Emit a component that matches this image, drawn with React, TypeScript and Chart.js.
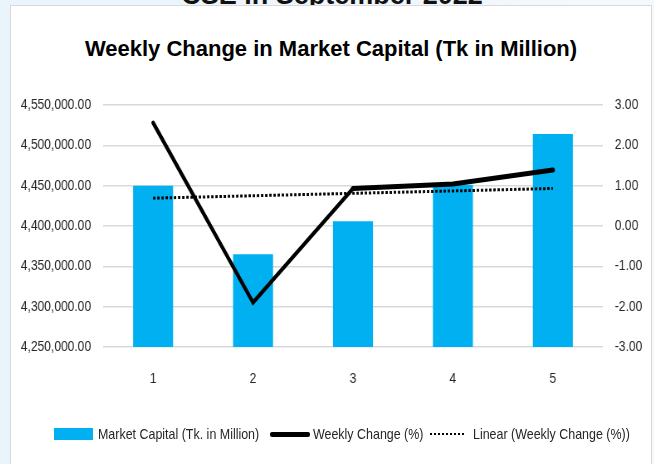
import React, { useEffect, useRef } from "react";
import { Chart, registerables } from "chart.js";

Chart.register(...registerables);

// ---- data ----
const weeks = ["1", "2", "3", "4", "5"];
const marketCapital = [4450000, 4365000, 4406000, 4451000, 4514000];
const weeklyChange = [2.56, -1.9, 0.93, 1.04, 1.39];
const linearTrend = [0.69, 0.75, 0.81, 0.87, 0.93];

const leftMin = 4250000;
const leftMax = 4550000;
const leftStep = 50000;
const rightMin = -3;
const rightMax = 3;
const rightStep = 1;

const titleText = "Weekly Change in Market Capital (Tk in Million)";
const headerText = "CSE in September 2022";
const seriesNames = ["Market Capital (Tk. in Million)", "Weekly Change (%)", "Linear (Weekly Change (%))"];

// ---- style ----
const FONT = '"Liberation Sans", Arial, sans-serif';
const BAR_COLOR = "#00b0f0";
const TEXT_COLOR = "#262626";
const SQUISH = 0.83; // narrow (Calibri-like) text look
const CANVAS_W = 771; // 640 / SQUISH
const CANVAS_H = 458;

export default function App() {
  const canvasRef = useRef<HTMLCanvasElement | null>(null);

  useEffect(() => {
    const canvas = canvasRef.current;
    if (!canvas) return;
    const chart = new Chart(canvas, {
      type: "bar",
      data: {
        labels: weeks,
        datasets: [
          {
            type: "line",
            label: seriesNames[1],
            data: weeklyChange,
            yAxisID: "yRight",
            borderColor: "#000000",
            backgroundColor: "#000000",
            borderWidth: 4,
            pointRadius: 0,
            borderJoinStyle: "miter",
            borderCapStyle: "round",
            tension: 0,
            order: 0,
            segment: {
              borderWidth: (ctx: any) => (ctx.p0DataIndex >= 2 ? 5 : 4.2),
            },
          } as any,
          {
            type: "line",
            label: seriesNames[2],
            data: linearTrend,
            yAxisID: "yRight",
            borderColor: "#000000",
            borderWidth: 3,
            borderDash: [2.8, 2.2],
            borderCapStyle: "butt",
            pointRadius: 0,
            tension: 0,
            order: 1,
          } as any,
          {
            type: "bar",
            label: seriesNames[0],
            data: marketCapital,
            yAxisID: "yLeft",
            backgroundColor: BAR_COLOR,
            borderWidth: 0,
            barPercentage: 0.4,
            categoryPercentage: 1,
            order: 2,
          } as any,
        ],
      },
      options: {
        responsive: false,
        animation: false,
        devicePixelRatio: 1,
        layout: { padding: { left: 0, right: 0, top: 99, bottom: 67 } },
        plugins: {
          legend: { display: false },
          tooltip: { enabled: false },
          title: { display: false },
        },
        scales: {
          x: {
            type: "category",
            offset: true,
            grid: { display: false },
            border: { display: false },
            ticks: {
              color: TEXT_COLOR,
              font: { family: FONT, size: 14.5 },
              padding: 15,
              maxRotation: 0,
            },
            afterFit: (s: any) => {
              s.height = 50;
            },
          },
          yLeft: {
            type: "linear",
            position: "left",
            min: leftMin,
            max: leftMax,
            grid: { color: "#d9d9d9", lineWidth: 1.5, drawTicks: false },
            border: { display: false },
            ticks: {
              stepSize: leftStep,
              color: TEXT_COLOR,
              font: { family: FONT, size: 14.5 },
              padding: 14.5,
              callback: (v: any) =>
                Number(v).toLocaleString("en-US", { minimumFractionDigits: 2, maximumFractionDigits: 2 }),
            },
            afterFit: (s: any) => {
              s.width = 111;
            },
          },
          yRight: {
            type: "linear",
            position: "right",
            min: rightMin,
            max: rightMax,
            grid: { display: false, drawTicks: false },
            border: { display: false },
            ticks: {
              stepSize: rightStep,
              color: TEXT_COLOR,
              font: { family: FONT, size: 14.5 },
              padding: 14.5,
              callback: (v: any) => Number(v).toFixed(2),
            },
            afterFit: (s: any) => {
              s.width = 58;
            },
          },
        },
      } as any,
    });
    return () => chart.destroy();
  }, []);

  const legendText: React.CSSProperties = {
    position: "absolute",
    top: 424,
    fontFamily: FONT,
    fontSize: 15,
    lineHeight: "20px",
    color: TEXT_COLOR,
    whiteSpace: "nowrap",
    transform: `scaleX(${SQUISH})`,
    transformOrigin: "0 0",
  };

  return (
    <div
      style={{
        position: "fixed",
        left: 0,
        top: 0,
        width: 654,
        height: 464,
        overflow: "hidden",
        background: "linear-gradient(90deg, #eaf4fb 0%, #f4f9fd 100%)",
      }}
    >
      <div
        style={{
          position: "absolute",
          left: 10,
          top: -20,
          width: 644,
          textAlign: "center",
          fontFamily: FONT,
          fontWeight: "bold",
          fontSize: 27,
          lineHeight: "30px",
          color: "#111",
        }}
      >
        {headerText}
      </div>
      <div
        style={{
          position: "absolute",
          left: 10,
          top: 5,
          width: 642,
          height: 470,
          background: "#ffffff",
          border: "1px solid #d9d9d9",
          boxSizing: "border-box",
        }}
      />
      <div
        style={{
          position: "absolute",
          left: 11,
          top: 36,
          width: 640,
          textAlign: "center",
          fontFamily: FONT,
          fontWeight: "bold",
          fontSize: 22,
          lineHeight: "26px",
          color: "#000",
          whiteSpace: "nowrap",
        }}
      >
        {titleText}
      </div>
      <canvas
        ref={canvasRef}
        width={CANVAS_W}
        height={CANVAS_H}
        style={{
          position: "absolute",
          left: 11,
          top: 6,
          width: CANVAS_W,
          height: CANVAS_H,
          transform: `scaleX(${SQUISH})`,
          transformOrigin: "0 0",
        }}
      />
      {/* legend */}
      <div style={{ position: "absolute", left: 54, top: 428, width: 39, height: 12, background: BAR_COLOR }} />
      <div style={{ ...legendText, left: 98 }}>{seriesNames[0]}</div>
      <div style={{ position: "absolute", left: 270, top: 431.5, width: 40, height: 5, background: "#000", borderRadius: 2 }} />
      <div style={{ ...legendText, left: 313 }}>{seriesNames[1]}</div>
      <div
        style={{
          position: "absolute",
          left: 430,
          top: 433,
          width: 34,
          height: 0,
          borderTop: "2.5px dotted #000",
        }}
      />
      <div style={{ ...legendText, left: 473 }}>{seriesNames[2]}</div>
    </div>
  );
}
